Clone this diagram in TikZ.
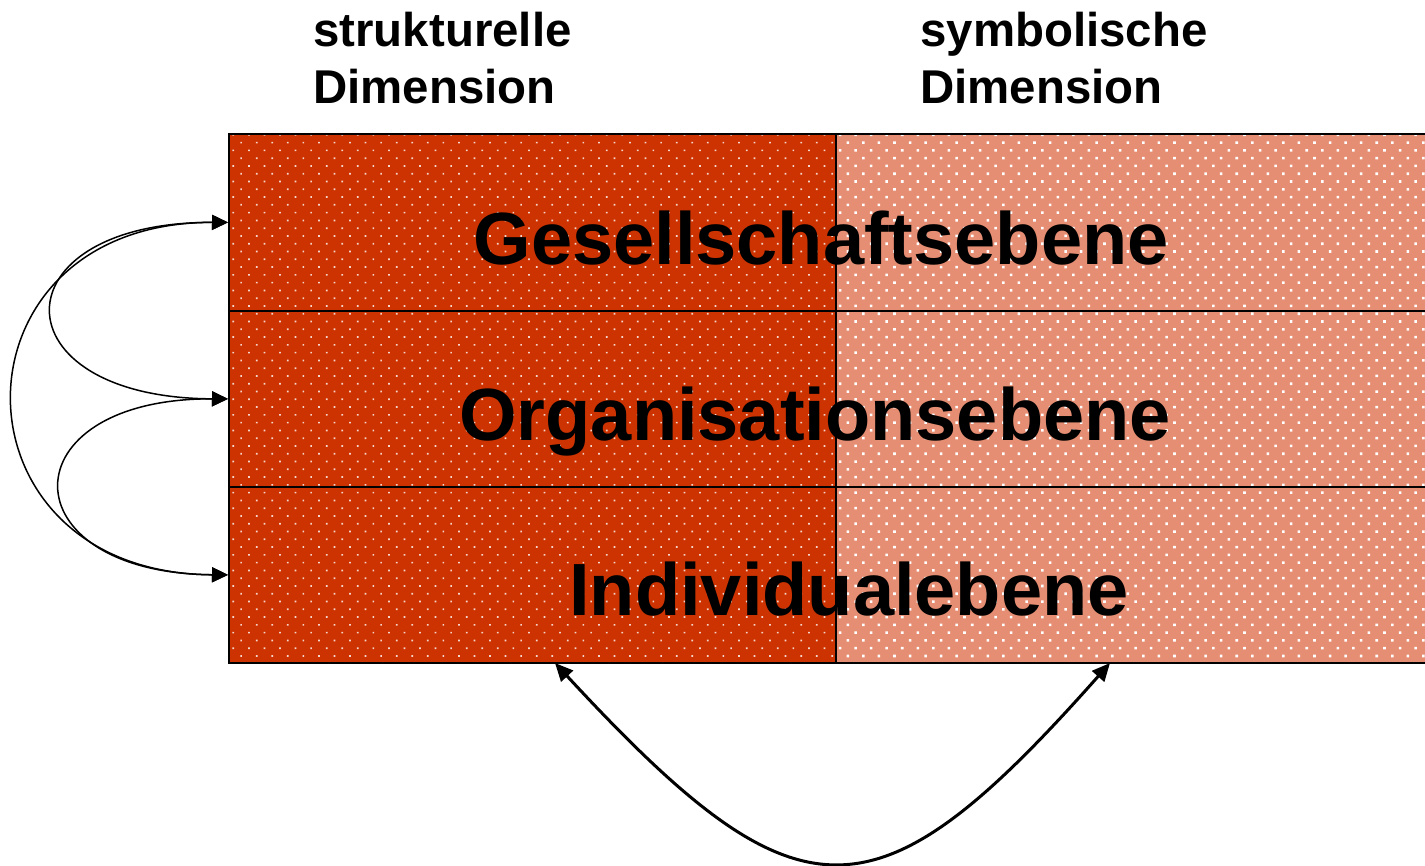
\documentclass[tikz,border=0pt]{standalone}
\usepackage{fontspec}
\setmainfont{Liberation Sans}
\usetikzlibrary{arrows.meta,patterns.meta}
\definecolor{struk}{RGB}{204,51,0}
\definecolor{symb}{RGB}{230,142,115}
\tikzset{
  rowbox/.style={draw=black, line width=0.9pt, minimum width=620pt, minimum height=88pt, inner sep=0pt, anchor=north west},
  head/.style={font=\bfseries\fontsize{23.7pt}{28.5pt}\selectfont, align=left, anchor=north west, inner sep=0pt},
  level/.style={font=\bfseries\fontsize{37pt}{44pt}\selectfont, anchor=base, inner sep=0pt},
  thinarr/.style={{Triangle[length=8pt,width=7.5pt]}-{Triangle[length=8pt,width=7.5pt]}, line width=0.75pt},
  thickarr/.style={{Triangle[length=9pt,width=8pt]}-{Triangle[length=9pt,width=8pt]}, line width=1.5pt},
  dotsL/.style={pattern={Dots[distance=5.5pt, angle=45, radius=0.6pt]}, pattern color=white!80!struk},
  dotsR/.style={pattern={Dots[distance=5.5pt, angle=45, radius=0.9pt]}, pattern color=white}
}
\begin{document}
\begin{tikzpicture}[x=0.5pt,y=-0.5pt]
\useasboundingbox (0,0) rectangle (1425,866);
\clip (0,0) rectangle (1425,866);
% fills
\fill[struk] (228,133) rectangle (836,662);
\fill[dotsL] (228,133) rectangle (836,662);
\fill[symb] (836,133) rectangle (1440,662);
\fill[dotsR] (836,133) rectangle (1440,662);
% rows
\node[rowbox, minimum height=88.5pt] (rowG) at (228,133) {};
\node[rowbox, minimum height=88pt] (rowO) at (228,310) {};
\node[rowbox, minimum height=88pt] (rowI) at (228,486) {};
\draw[line width=0.9pt] (836,133) -- (836,662);
% headings
\node[head] (hs) at (313,12) {strukturelle\\Dimension};
\node[head] (hy) at (920,12) {symbolische\\Dimension};
% level labels
\node[level] (lG) at (821,265) {Gesellschaftsebene};
\node[level] (lO) at (815,440) {Organisationsebene};
\node[level] (lI) at (849,615) {Individualebene};
% left arrows
\draw[thinarr] (rowG.west) .. controls (-5,222) and (-5,398) .. (rowO.west);
\draw[thinarr] (rowG.west) .. controls (-57,222) and (-57,573) .. (rowI.west);
\draw[thinarr] (rowO.west) .. controls (6,398) and (6,573) .. (rowI.west);
% bottom arrow
\coordinate (sL) at (555,663);
\coordinate (sR) at (1110,663);
\draw[thickarr] (sL) .. controls (800,928) and (875,928) .. (sR);
\end{tikzpicture}
\end{document}
